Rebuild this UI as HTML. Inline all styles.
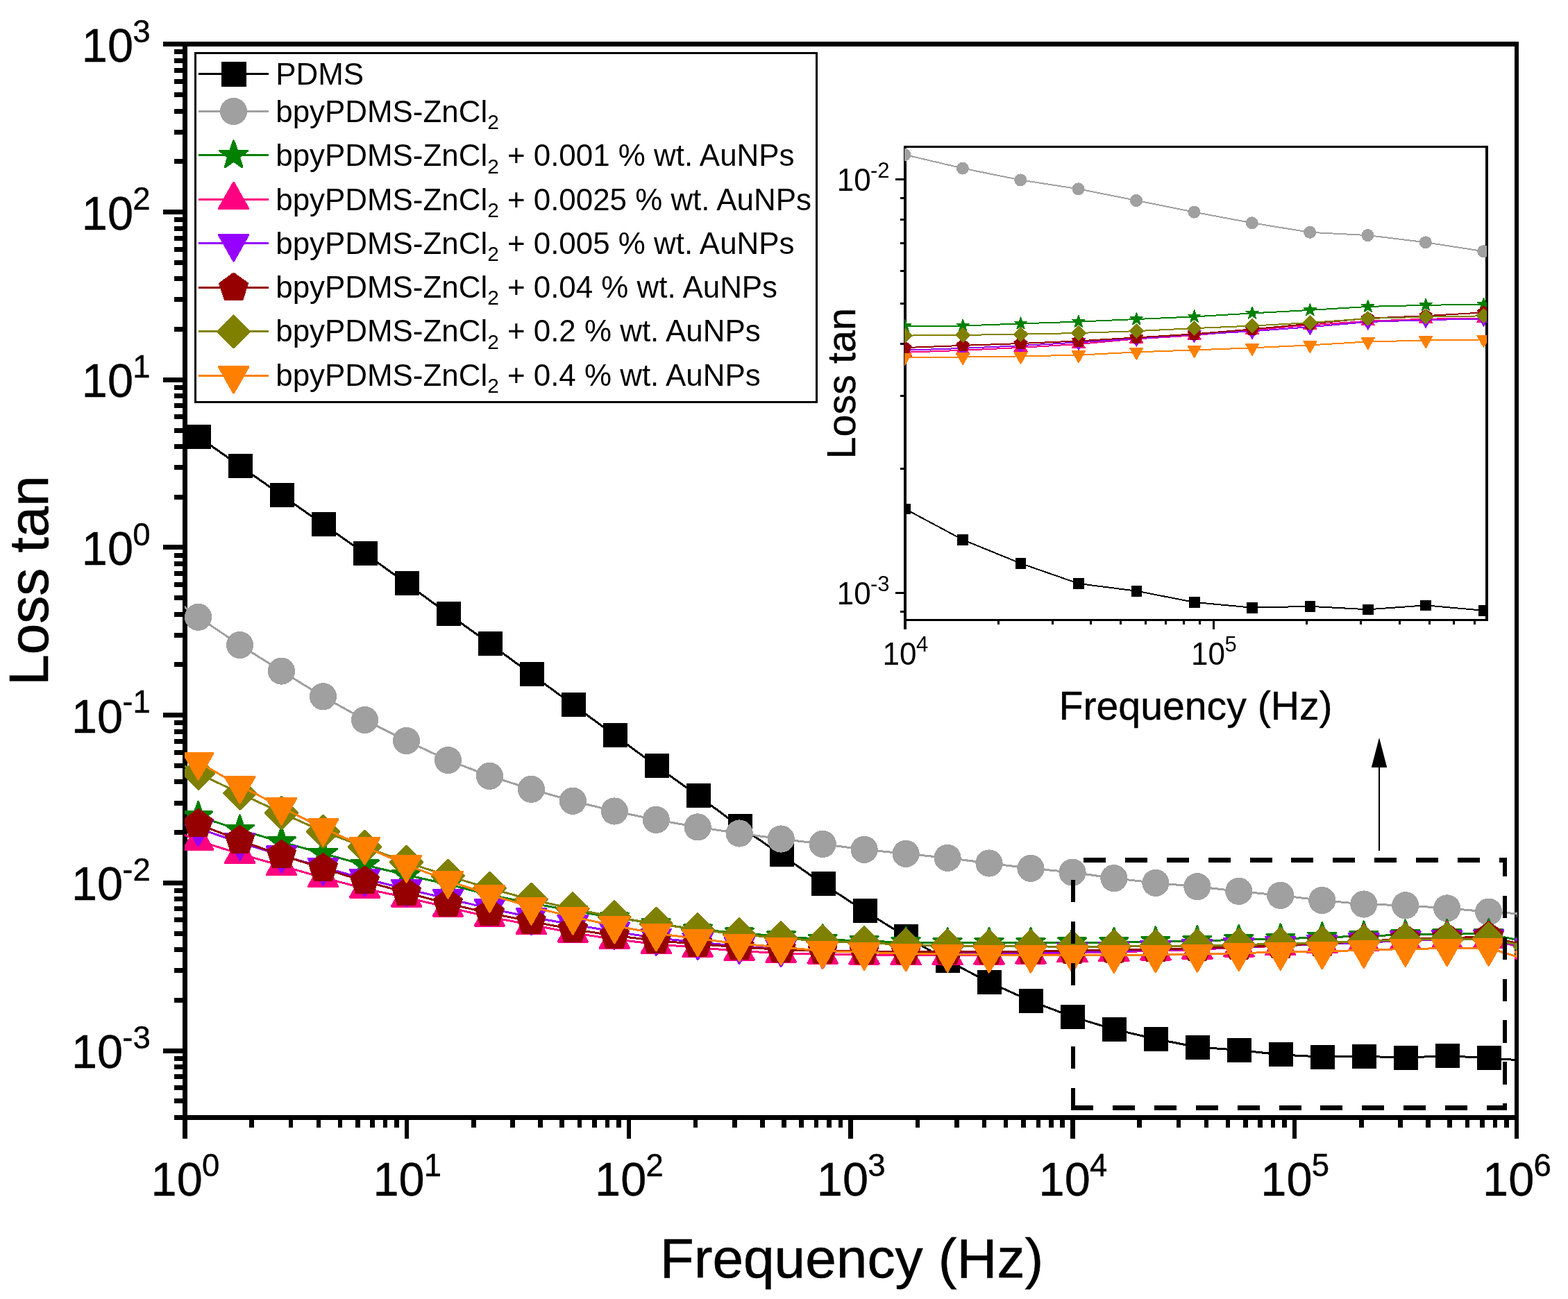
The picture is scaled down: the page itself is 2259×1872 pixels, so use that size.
<!DOCTYPE html>
<html lang="en"><head><meta charset="utf-8"><title>Loss tan vs Frequency</title>
<style>
html,body{margin:0;padding:0;background:#fff;}
body{width:2259px;height:1872px;overflow:hidden;}
svg{display:block;}
text{font-family:"Liberation Sans",Arial,Helvetica,sans-serif;fill:#000;}
.k{fill:#000;}
</style></head><body>
<svg width="2259" height="1872" viewBox="0 0 2259 1872">
<rect x="0" y="0" width="2259" height="1872" fill="#fff"/>
<defs>
<clipPath id="cm"><rect x="266" y="63" width="1920" height="1548"/></clipPath>
<clipPath id="ci"><rect x="1303" y="211" width="839" height="683"/></clipPath>
</defs>
<g id="main-axes" class="k" shape-rendering="crispEdges">
<rect x="263" y="60" width="7" height="1554"/>
<rect x="2182" y="60" width="6" height="1581"/>
<rect x="235" y="60" width="1953" height="7"/>
<rect x="251" y="1607" width="1937" height="7"/>
<rect x="251" y="71" width="15" height="7"/>
<rect x="251" y="84" width="15" height="7"/>
<rect x="251" y="98" width="15" height="7"/>
<rect x="251" y="114" width="15" height="7"/>
<rect x="251" y="133" width="15" height="7"/>
<rect x="251" y="157" width="15" height="7"/>
<rect x="251" y="187" width="15" height="7"/>
<rect x="251" y="229" width="15" height="7"/>
<rect x="235" y="302" width="31" height="7"/>
<rect x="251" y="313" width="15" height="7"/>
<rect x="251" y="326" width="15" height="7"/>
<rect x="251" y="340" width="15" height="7"/>
<rect x="251" y="356" width="15" height="7"/>
<rect x="251" y="375" width="15" height="7"/>
<rect x="251" y="398" width="15" height="7"/>
<rect x="251" y="428" width="15" height="7"/>
<rect x="251" y="471" width="15" height="7"/>
<rect x="235" y="544" width="31" height="7"/>
<rect x="251" y="555" width="15" height="7"/>
<rect x="251" y="567" width="15" height="7"/>
<rect x="251" y="581" width="15" height="7"/>
<rect x="251" y="597" width="15" height="7"/>
<rect x="251" y="617" width="15" height="7"/>
<rect x="251" y="640" width="15" height="7"/>
<rect x="251" y="670" width="15" height="7"/>
<rect x="251" y="713" width="15" height="7"/>
<rect x="235" y="785" width="31" height="7"/>
<rect x="251" y="797" width="15" height="7"/>
<rect x="251" y="809" width="15" height="7"/>
<rect x="251" y="823" width="15" height="7"/>
<rect x="251" y="839" width="15" height="7"/>
<rect x="251" y="858" width="15" height="7"/>
<rect x="251" y="882" width="15" height="7"/>
<rect x="251" y="912" width="15" height="7"/>
<rect x="251" y="954" width="15" height="7"/>
<rect x="235" y="1027" width="31" height="7"/>
<rect x="251" y="1038" width="15" height="7"/>
<rect x="251" y="1051" width="15" height="7"/>
<rect x="251" y="1065" width="15" height="7"/>
<rect x="251" y="1081" width="15" height="7"/>
<rect x="251" y="1100" width="15" height="7"/>
<rect x="251" y="1123" width="15" height="7"/>
<rect x="251" y="1154" width="15" height="7"/>
<rect x="251" y="1196" width="15" height="7"/>
<rect x="235" y="1269" width="31" height="7"/>
<rect x="251" y="1280" width="15" height="7"/>
<rect x="251" y="1292" width="15" height="7"/>
<rect x="251" y="1306" width="15" height="7"/>
<rect x="251" y="1322" width="15" height="7"/>
<rect x="251" y="1342" width="15" height="7"/>
<rect x="251" y="1365" width="15" height="7"/>
<rect x="251" y="1395" width="15" height="7"/>
<rect x="251" y="1438" width="15" height="7"/>
<rect x="235" y="1511" width="31" height="7"/>
<rect x="251" y="1522" width="15" height="7"/>
<rect x="251" y="1534" width="15" height="7"/>
<rect x="251" y="1548" width="15" height="7"/>
<rect x="251" y="1564" width="15" height="7"/>
<rect x="251" y="1583" width="15" height="7"/>
<rect x="263" y="1610" width="7" height="31"/>
<rect x="359" y="1610" width="7" height="15"/>
<rect x="416" y="1610" width="6" height="15"/>
<rect x="456" y="1610" width="6" height="15"/>
<rect x="487" y="1610" width="6" height="15"/>
<rect x="512" y="1610" width="7" height="15"/>
<rect x="533" y="1610" width="7" height="15"/>
<rect x="552" y="1610" width="6" height="15"/>
<rect x="568" y="1610" width="7" height="15"/>
<rect x="583" y="1610" width="6" height="31"/>
<rect x="679" y="1610" width="7" height="15"/>
<rect x="735" y="1610" width="7" height="15"/>
<rect x="775" y="1610" width="7" height="15"/>
<rect x="806" y="1610" width="7" height="15"/>
<rect x="832" y="1610" width="6" height="15"/>
<rect x="853" y="1610" width="7" height="15"/>
<rect x="872" y="1610" width="6" height="15"/>
<rect x="888" y="1610" width="7" height="15"/>
<rect x="903" y="1610" width="6" height="31"/>
<rect x="999" y="1610" width="6" height="15"/>
<rect x="1055" y="1610" width="7" height="15"/>
<rect x="1095" y="1610" width="7" height="15"/>
<rect x="1126" y="1610" width="7" height="15"/>
<rect x="1151" y="1610" width="7" height="15"/>
<rect x="1173" y="1610" width="6" height="15"/>
<rect x="1191" y="1610" width="7" height="15"/>
<rect x="1208" y="1610" width="6" height="15"/>
<rect x="1222" y="1610" width="7" height="31"/>
<rect x="1319" y="1610" width="6" height="15"/>
<rect x="1375" y="1610" width="7" height="15"/>
<rect x="1415" y="1610" width="6" height="15"/>
<rect x="1446" y="1610" width="6" height="15"/>
<rect x="1471" y="1610" width="7" height="15"/>
<rect x="1493" y="1610" width="6" height="15"/>
<rect x="1511" y="1610" width="7" height="15"/>
<rect x="1527" y="1610" width="7" height="15"/>
<rect x="1542" y="1610" width="7" height="31"/>
<rect x="1638" y="1610" width="7" height="15"/>
<rect x="1695" y="1610" width="6" height="15"/>
<rect x="1735" y="1610" width="6" height="15"/>
<rect x="1766" y="1610" width="6" height="15"/>
<rect x="1791" y="1610" width="7" height="15"/>
<rect x="1812" y="1610" width="7" height="15"/>
<rect x="1831" y="1610" width="6" height="15"/>
<rect x="1847" y="1610" width="7" height="15"/>
<rect x="1862" y="1610" width="6" height="31"/>
<rect x="1958" y="1610" width="7" height="15"/>
<rect x="2014" y="1610" width="7" height="15"/>
<rect x="2054" y="1610" width="7" height="15"/>
<rect x="2085" y="1610" width="7" height="15"/>
<rect x="2111" y="1610" width="6" height="15"/>
<rect x="2132" y="1610" width="7" height="15"/>
<rect x="2151" y="1610" width="6" height="15"/>
<rect x="2167" y="1610" width="7" height="15"/>
</g>
<g id="main-ticklabels" stroke="#000" stroke-width="0.4">
<text transform="translate(117.8 88.9) scale(1 1.04)" font-size="66.7">10</text><text x="191.2" y="60.6" font-size="45.5">3</text>
<text transform="translate(117.8 330.6) scale(1 1.04)" font-size="66.7">10</text><text x="191.2" y="302.3" font-size="45.5">2</text>
<text transform="translate(117.8 572.3) scale(1 1.04)" font-size="66.7">10</text><text x="191.2" y="544" font-size="45.5">1</text>
<text transform="translate(117.8 813.9) scale(1 1.04)" font-size="66.7">10</text><text x="191.2" y="785.6" font-size="45.5">0</text>
<text transform="translate(102.9 1055.6) scale(1 1.04)" font-size="66.7">10</text><text x="176.3" y="1027.3" font-size="45.5">-1</text>
<text transform="translate(102.9 1297.3) scale(1 1.04)" font-size="66.7">10</text><text x="176.3" y="1269" font-size="45.5">-2</text>
<text transform="translate(102.9 1539) scale(1 1.04)" font-size="66.7">10</text><text x="176.3" y="1510.7" font-size="45.5">-3</text>
<text transform="translate(217.6 1722.9) scale(1 1.04)" font-size="66.7">10</text><text x="291" y="1695.1" font-size="45.5">0</text>
<text transform="translate(537.4 1722.9) scale(1 1.04)" font-size="66.7">10</text><text x="610.7" y="1695.1" font-size="45.5">1</text>
<text transform="translate(857.1 1722.9) scale(1 1.04)" font-size="66.7">10</text><text x="930.5" y="1695.1" font-size="45.5">2</text>
<text transform="translate(1176.8 1722.9) scale(1 1.04)" font-size="66.7">10</text><text x="1250.2" y="1695.1" font-size="45.5">3</text>
<text transform="translate(1496.6 1722.9) scale(1 1.04)" font-size="66.7">10</text><text x="1570" y="1695.1" font-size="45.5">4</text>
<text transform="translate(1816.3 1722.9) scale(1 1.04)" font-size="66.7">10</text><text x="1889.7" y="1695.1" font-size="45.5">5</text>
<text transform="translate(2136.1 1722.9) scale(1 1.04)" font-size="66.7">10</text><text x="2209.5" y="1695.1" font-size="45.5">6</text>
</g>
<text x="1227" y="1840.7" font-size="80.2" text-anchor="middle" stroke="#000" stroke-width="0.6">Frequency (Hz)</text>
<text transform="translate(68.8 836.6) rotate(-90)" font-size="80" text-anchor="middle" stroke="#000" stroke-width="0.6">Loss tan</text>
<g id="main-data" clip-path="url(#cm)" shape-rendering="crispEdges">
<polyline fill="none" stroke="#000000" stroke-width="3" points="225.6,587.4 285.6,629.4 345.6,671.4 405.5,713.5 465.5,755.5 525.5,797.4 585.5,840.5 645.4,884.5 705.4,927.4 765.4,971.5 825.3,1015.4 885.3,1059.5 945.3,1103.6 1005.2,1146.5 1065.2,1190.7 1125.2,1231.4 1185.2,1273.5 1245.1,1312.5 1305.1,1349.6 1365.1,1384.5 1425,1415.5 1485,1442.6 1545,1465.3 1604.9,1483.4 1664.9,1497.2 1724.9,1509 1784.8,1513.3 1844.8,1519.9 1904.8,1523.1 1964.8,1522.3 2024.7,1524.1 2084.7,1521.7 2144.7,1524.7 2204.6,1529"/>
<g fill="#000000">
<rect x="209" y="570" width="35" height="35"/>
<rect x="269" y="612" width="35" height="35"/>
<rect x="329" y="654" width="35" height="35"/>
<rect x="389" y="696" width="35" height="35"/>
<rect x="449" y="738" width="35" height="35"/>
<rect x="509" y="780" width="35" height="35"/>
<rect x="569" y="823" width="35" height="35"/>
<rect x="629" y="867" width="35" height="35"/>
<rect x="689" y="910" width="35" height="35"/>
<rect x="749" y="954" width="35" height="35"/>
<rect x="809" y="998" width="35" height="35"/>
<rect x="869" y="1042" width="35" height="35"/>
<rect x="929" y="1086" width="35" height="35"/>
<rect x="989" y="1129" width="35" height="35"/>
<rect x="1049" y="1173" width="35" height="35"/>
<rect x="1109" y="1214" width="35" height="35"/>
<rect x="1169" y="1256" width="35" height="35"/>
<rect x="1229" y="1295" width="35" height="35"/>
<rect x="1288" y="1332" width="35" height="35"/>
<rect x="1348" y="1367" width="35" height="35"/>
<rect x="1408" y="1398" width="35" height="35"/>
<rect x="1468" y="1425" width="35" height="35"/>
<rect x="1528" y="1448" width="35" height="35"/>
<rect x="1588" y="1466" width="35" height="35"/>
<rect x="1648" y="1480" width="35" height="35"/>
<rect x="1708" y="1492" width="35" height="35"/>
<rect x="1768" y="1496" width="35" height="35"/>
<rect x="1828" y="1502" width="35" height="35"/>
<rect x="1888" y="1506" width="35" height="35"/>
<rect x="1948" y="1505" width="35" height="35"/>
<rect x="2008" y="1507" width="35" height="35"/>
<rect x="2068" y="1504" width="35" height="35"/>
<rect x="2128" y="1507" width="35" height="35"/>
<rect x="2188" y="1512" width="35" height="35"/>
</g>
<polyline fill="none" stroke="#a0a0a0" stroke-width="3" points="225.6,845 285.6,889.3 345.6,929.5 405.5,967.1 465.5,1003.8 525.5,1037.4 585.5,1067.5 645.4,1095.5 705.4,1118.3 765.4,1137.3 825.3,1154.3 885.3,1169 945.3,1181.4 1005.2,1191.9 1065.2,1201 1125.2,1209 1185.2,1216.4 1245.1,1224.3 1305.1,1230.3 1365.1,1236.4 1425,1244 1485,1251.4 1545,1257.1 1604.9,1265.6 1664.9,1272.4 1724.9,1277.7 1784.8,1284.4 1844.8,1290.4 1904.8,1297.5 1964.8,1303 2024.7,1304.8 2084.7,1308.9 2144.7,1314.1 2204.6,1317.8"/>
<g fill="#a0a0a0">
<circle cx="225.6" cy="845" r="19.6"/>
<circle cx="285.6" cy="889.3" r="19.6"/>
<circle cx="345.6" cy="929.5" r="19.6"/>
<circle cx="405.5" cy="967.1" r="19.6"/>
<circle cx="465.5" cy="1003.8" r="19.6"/>
<circle cx="525.5" cy="1037.4" r="19.6"/>
<circle cx="585.5" cy="1067.5" r="19.6"/>
<circle cx="645.4" cy="1095.5" r="19.6"/>
<circle cx="705.4" cy="1118.3" r="19.6"/>
<circle cx="765.4" cy="1137.3" r="19.6"/>
<circle cx="825.3" cy="1154.3" r="19.6"/>
<circle cx="885.3" cy="1169" r="19.6"/>
<circle cx="945.3" cy="1181.4" r="19.6"/>
<circle cx="1005.2" cy="1191.9" r="19.6"/>
<circle cx="1065.2" cy="1201" r="19.6"/>
<circle cx="1125.2" cy="1209" r="19.6"/>
<circle cx="1185.2" cy="1216.4" r="19.6"/>
<circle cx="1245.1" cy="1224.3" r="19.6"/>
<circle cx="1305.1" cy="1230.3" r="19.6"/>
<circle cx="1365.1" cy="1236.4" r="19.6"/>
<circle cx="1425" cy="1244" r="19.6"/>
<circle cx="1485" cy="1251.4" r="19.6"/>
<circle cx="1545" cy="1257.1" r="19.6"/>
<circle cx="1604.9" cy="1265.6" r="19.6"/>
<circle cx="1664.9" cy="1272.4" r="19.6"/>
<circle cx="1724.9" cy="1277.7" r="19.6"/>
<circle cx="1784.8" cy="1284.4" r="19.6"/>
<circle cx="1844.8" cy="1290.4" r="19.6"/>
<circle cx="1904.8" cy="1297.5" r="19.6"/>
<circle cx="1964.8" cy="1303" r="19.6"/>
<circle cx="2024.7" cy="1304.8" r="19.6"/>
<circle cx="2084.7" cy="1308.9" r="19.6"/>
<circle cx="2144.7" cy="1314.1" r="19.6"/>
<circle cx="2204.6" cy="1317.8" r="19.6"/>
</g>
<polyline fill="none" stroke="#008000" stroke-width="3" points="225.6,1156 285.6,1176.5 345.6,1196 405.5,1213.3 465.5,1230 525.5,1246.5 585.5,1261 645.4,1274.3 705.4,1289.8 765.4,1301.6 825.3,1312.5 885.3,1322.5 945.3,1331 1005.2,1339.5 1065.2,1344.5 1125.2,1349.4 1185.2,1353.7 1245.1,1356.2 1305.1,1357.9 1365.1,1358.8 1425,1358.8 1485,1358.8 1545,1358.4 1604.9,1358.2 1664.9,1357 1724.9,1355.8 1784.8,1354.4 1844.8,1352.9 1904.8,1350.9 1964.8,1349.1 2024.7,1347 2084.7,1346.2 2144.7,1345.7 2204.6,1358.7"/>
<g fill="#008000" stroke="#008000" stroke-width="3" stroke-linejoin="round">
<polygon points="225.6,1134.9 230.6,1149.2 245.7,1149.5 233.7,1158.6 238,1173.1 225.6,1164.4 213.2,1173.1 217.6,1158.6 205.6,1149.5 220.7,1149.2"/>
<polygon points="285.6,1155.4 290.6,1169.7 305.7,1170 293.6,1179.1 298,1193.6 285.6,1184.9 273.2,1193.6 277.6,1179.1 265.5,1170 280.6,1169.7"/>
<polygon points="345.6,1174.9 350.5,1189.2 365.6,1189.5 353.6,1198.6 358,1213.1 345.6,1204.4 333.2,1213.1 337.5,1198.6 325.5,1189.5 340.6,1189.2"/>
<polygon points="405.5,1192.2 410.5,1206.5 425.6,1206.8 413.6,1215.9 417.9,1230.4 405.5,1221.7 393.1,1230.4 397.5,1215.9 385.5,1206.8 400.6,1206.5"/>
<polygon points="465.5,1208.9 470.5,1223.2 485.6,1223.5 473.5,1232.6 477.9,1247.1 465.5,1238.4 453.1,1247.1 457.5,1232.6 445.4,1223.5 460.5,1223.2"/>
<polygon points="525.5,1225.4 530.4,1239.7 545.5,1240 533.5,1249.1 537.9,1263.6 525.5,1254.9 513.1,1263.6 517.5,1249.1 505.4,1240 520.5,1239.7"/>
<polygon points="585.5,1239.9 590.4,1254.2 605.5,1254.5 593.5,1263.6 597.9,1278.1 585.5,1269.4 573,1278.1 577.4,1263.6 565.4,1254.5 580.5,1254.2"/>
<polygon points="645.4,1253.2 650.4,1267.5 665.5,1267.8 653.4,1276.9 657.8,1291.4 645.4,1282.7 633,1291.4 637.4,1276.9 625.4,1267.8 640.5,1267.5"/>
<polygon points="705.4,1268.7 710.4,1283 725.5,1283.3 713.4,1292.4 717.8,1306.9 705.4,1298.2 693,1306.9 697.4,1292.4 685.3,1283.3 700.4,1283"/>
<polygon points="765.4,1280.5 770.3,1294.8 785.4,1295.1 773.4,1304.2 777.8,1318.7 765.4,1310 753,1318.7 757.3,1304.2 745.3,1295.1 760.4,1294.8"/>
<polygon points="825.3,1291.4 830.3,1305.7 845.4,1306 833.4,1315.1 837.7,1329.6 825.3,1320.9 812.9,1329.6 817.3,1315.1 805.3,1306 820.4,1305.7"/>
<polygon points="885.3,1301.4 890.3,1315.7 905.4,1316 893.3,1325.1 897.7,1339.6 885.3,1330.9 872.9,1339.6 877.3,1325.1 865.2,1316 880.3,1315.7"/>
<polygon points="945.3,1309.9 950.2,1324.2 965.3,1324.5 953.3,1333.6 957.7,1348.1 945.3,1339.4 932.9,1348.1 937.2,1333.6 925.2,1324.5 940.3,1324.2"/>
<polygon points="1005.2,1318.4 1010.2,1332.7 1025.3,1333 1013.3,1342.1 1017.6,1356.6 1005.2,1347.9 992.8,1356.6 997.2,1342.1 985.2,1333 1000.3,1332.7"/>
<polygon points="1065.2,1323.4 1070.2,1337.7 1085.3,1338 1073.2,1347.1 1077.6,1361.6 1065.2,1352.9 1052.8,1361.6 1057.2,1347.1 1045.1,1338 1060.2,1337.7"/>
<polygon points="1125.2,1328.3 1130.1,1342.6 1145.2,1342.9 1133.2,1352 1137.6,1366.5 1125.2,1357.8 1112.8,1366.5 1117.2,1352 1105.1,1342.9 1120.2,1342.6"/>
<polygon points="1185.2,1332.6 1190.1,1346.9 1205.2,1347.2 1193.2,1356.3 1197.6,1370.8 1185.2,1362.1 1172.7,1370.8 1177.1,1356.3 1165.1,1347.2 1180.2,1346.9"/>
<polygon points="1245.1,1335.1 1250.1,1349.4 1265.2,1349.7 1253.1,1358.8 1257.5,1373.3 1245.1,1364.6 1232.7,1373.3 1237.1,1358.8 1225.1,1349.7 1240.2,1349.4"/>
<polygon points="1305.1,1336.8 1310.1,1351.1 1325.2,1351.4 1313.1,1360.5 1317.5,1375 1305.1,1366.3 1292.7,1375 1297.1,1360.5 1285,1351.4 1300.1,1351.1"/>
<polygon points="1365.1,1337.7 1370,1352 1385.1,1352.3 1373.1,1361.4 1377.5,1375.9 1365.1,1367.2 1352.7,1375.9 1357,1361.4 1345,1352.3 1360.1,1352"/>
<polygon points="1425,1337.7 1430,1352 1445.1,1352.3 1433.1,1361.4 1437.4,1375.9 1425,1367.2 1412.6,1375.9 1417,1361.4 1405,1352.3 1420.1,1352"/>
<polygon points="1485,1337.7 1490,1352 1505.1,1352.3 1493,1361.4 1497.4,1375.9 1485,1367.2 1472.6,1375.9 1477,1361.4 1464.9,1352.3 1480,1352"/>
<polygon points="1545,1337.3 1549.9,1351.6 1565,1351.9 1553,1361 1557.4,1375.5 1545,1366.9 1532.6,1375.5 1536.9,1361 1524.9,1351.9 1540,1351.6"/>
<polygon points="1604.9,1337.1 1609.9,1351.4 1625,1351.7 1613,1360.8 1617.3,1375.3 1604.9,1366.7 1592.5,1375.3 1596.9,1360.8 1584.9,1351.7 1600,1351.4"/>
<polygon points="1664.9,1335.9 1669.9,1350.1 1685,1350.4 1672.9,1359.6 1677.3,1374 1664.9,1365.4 1652.5,1374 1656.9,1359.6 1644.8,1350.4 1659.9,1350.1"/>
<polygon points="1724.9,1334.7 1729.8,1349 1744.9,1349.3 1732.9,1358.4 1737.3,1372.9 1724.9,1364.3 1712.5,1372.9 1716.9,1358.4 1704.8,1349.3 1719.9,1349"/>
<polygon points="1784.8,1333.3 1789.8,1347.5 1804.9,1347.8 1792.9,1357 1797.3,1371.4 1784.8,1362.8 1772.4,1371.4 1776.8,1357 1764.8,1347.8 1779.9,1347.5"/>
<polygon points="1844.8,1331.8 1849.8,1346.1 1864.9,1346.4 1852.8,1355.5 1857.2,1370 1844.8,1361.3 1832.4,1370 1836.8,1355.5 1824.8,1346.4 1839.9,1346.1"/>
<polygon points="1904.8,1329.8 1909.8,1344 1924.9,1344.4 1912.8,1353.5 1917.2,1367.9 1904.8,1359.3 1892.4,1367.9 1896.8,1353.5 1884.7,1344.4 1899.8,1344"/>
<polygon points="1964.8,1328 1969.7,1342.2 1984.8,1342.5 1972.8,1351.7 1977.2,1366.1 1964.8,1357.5 1952.4,1366.1 1956.7,1351.7 1944.7,1342.5 1959.8,1342.2"/>
<polygon points="2024.7,1325.9 2029.7,1340.2 2044.8,1340.5 2032.8,1349.6 2037.1,1364.1 2024.7,1355.5 2012.3,1364.1 2016.7,1349.6 2004.7,1340.5 2019.8,1340.2"/>
<polygon points="2084.7,1325.1 2089.7,1339.3 2104.8,1339.7 2092.7,1348.8 2097.1,1363.2 2084.7,1354.6 2072.3,1363.2 2076.7,1348.8 2064.6,1339.7 2079.7,1339.3"/>
<polygon points="2144.7,1324.6 2149.6,1338.9 2164.7,1339.2 2152.7,1348.3 2157.1,1362.8 2144.7,1354.2 2132.3,1362.8 2136.6,1348.3 2124.6,1339.2 2139.7,1338.9"/>
<polygon points="2204.6,1337.6 2209.6,1351.9 2224.7,1352.2 2212.7,1361.3 2217,1375.8 2204.6,1367.1 2192.2,1375.8 2196.6,1361.3 2184.6,1352.2 2199.7,1351.9"/>
</g>
<polyline fill="none" stroke="#ff0080" stroke-width="3" points="225.6,1186.1 285.6,1211.6 345.6,1230.6 405.5,1247.7 465.5,1264.8 525.5,1280.5 585.5,1293.5 645.4,1307.5 705.4,1321.5 765.4,1332.7 825.3,1344.4 885.3,1353.5 945.3,1360.7 1005.2,1365.5 1065.2,1370.6 1125.2,1373.6 1185.2,1375.3 1245.1,1376.3 1305.1,1377 1365.1,1377 1425,1376.3 1485,1375.3 1545,1373.1 1604.9,1371.9 1664.9,1370.3 1724.9,1368.4 1784.8,1365.3 1844.8,1363.2 1904.8,1360 1964.8,1357.2 2024.7,1354.9 2084.7,1353.6 2144.7,1353.2 2204.6,1368.4"/>
<g fill="#ff0080" stroke="#ff0080" stroke-width="3" stroke-linejoin="round">
<polygon points="225.6,1161.2 246.9,1198.8 204.3,1198.8"/>
<polygon points="285.6,1186.7 306.9,1224.3 264.3,1224.3"/>
<polygon points="345.6,1205.7 366.9,1243.3 324.3,1243.3"/>
<polygon points="405.5,1222.8 426.8,1260.4 384.2,1260.4"/>
<polygon points="465.5,1239.9 486.8,1277.5 444.2,1277.5"/>
<polygon points="525.5,1255.6 546.8,1293.2 504.2,1293.2"/>
<polygon points="585.5,1268.6 606.8,1306.2 564.2,1306.2"/>
<polygon points="645.4,1282.6 666.7,1320.2 624.1,1320.2"/>
<polygon points="705.4,1296.6 726.7,1334.2 684.1,1334.2"/>
<polygon points="765.4,1307.8 786.7,1345.4 744.1,1345.4"/>
<polygon points="825.3,1319.5 846.6,1357.1 804,1357.1"/>
<polygon points="885.3,1328.6 906.6,1366.2 864,1366.2"/>
<polygon points="945.3,1335.8 966.6,1373.4 924,1373.4"/>
<polygon points="1005.2,1340.6 1026.5,1378.2 983.9,1378.2"/>
<polygon points="1065.2,1345.7 1086.5,1383.3 1043.9,1383.3"/>
<polygon points="1125.2,1348.7 1146.5,1386.3 1103.9,1386.3"/>
<polygon points="1185.2,1350.4 1206.5,1388 1163.9,1388"/>
<polygon points="1245.1,1351.4 1266.4,1389 1223.8,1389"/>
<polygon points="1305.1,1352.1 1326.4,1389.7 1283.8,1389.7"/>
<polygon points="1365.1,1352.1 1386.4,1389.7 1343.8,1389.7"/>
<polygon points="1425,1351.4 1446.3,1389 1403.7,1389"/>
<polygon points="1485,1350.4 1506.3,1388 1463.7,1388"/>
<polygon points="1545,1348.2 1566.3,1385.8 1523.7,1385.8"/>
<polygon points="1604.9,1347 1626.2,1384.6 1583.6,1384.6"/>
<polygon points="1664.9,1345.4 1686.2,1383 1643.6,1383"/>
<polygon points="1724.9,1343.5 1746.2,1381.1 1703.6,1381.1"/>
<polygon points="1784.8,1340.4 1806.1,1378 1763.5,1378"/>
<polygon points="1844.8,1338.3 1866.1,1375.9 1823.5,1375.9"/>
<polygon points="1904.8,1335.1 1926.1,1372.7 1883.5,1372.7"/>
<polygon points="1964.8,1332.3 1986.1,1369.9 1943.5,1369.9"/>
<polygon points="2024.7,1330 2046,1367.6 2003.4,1367.6"/>
<polygon points="2084.7,1328.7 2106,1366.3 2063.4,1366.3"/>
<polygon points="2144.7,1328.3 2166,1365.9 2123.4,1365.9"/>
<polygon points="2204.6,1343.5 2225.9,1381.1 2183.3,1381.1"/>
</g>
<polyline fill="none" stroke="#9600ff" stroke-width="3" points="225.6,1177.8 285.6,1193.8 345.6,1214.2 405.5,1232.5 465.5,1250.1 525.5,1266.3 585.5,1281.2 645.4,1295.1 705.4,1309.2 765.4,1321.8 825.3,1332.2 885.3,1342.6 945.3,1351.7 1005.2,1357.8 1065.2,1363.6 1125.2,1367.7 1185.2,1370.7 1245.1,1372.4 1305.1,1373.3 1365.1,1373.7 1425,1373.7 1485,1373.3 1545,1371.9 1604.9,1370.7 1664.9,1369.2 1724.9,1367.3 1784.8,1365.1 1844.8,1362.8 1904.8,1360.8 1964.8,1358.3 2024.7,1355.4 2084.7,1354.2 2144.7,1353.5 2204.6,1366.4"/>
<g fill="#9600ff" stroke="#9600ff" stroke-width="3" stroke-linejoin="round">
<polygon points="225.6,1202.7 246.9,1165.1 204.3,1165.1"/>
<polygon points="285.6,1218.7 306.9,1181.1 264.3,1181.1"/>
<polygon points="345.6,1239.1 366.9,1201.5 324.3,1201.5"/>
<polygon points="405.5,1257.4 426.8,1219.8 384.2,1219.8"/>
<polygon points="465.5,1275 486.8,1237.4 444.2,1237.4"/>
<polygon points="525.5,1291.2 546.8,1253.6 504.2,1253.6"/>
<polygon points="585.5,1306.1 606.8,1268.5 564.2,1268.5"/>
<polygon points="645.4,1320 666.7,1282.4 624.1,1282.4"/>
<polygon points="705.4,1334.1 726.7,1296.5 684.1,1296.5"/>
<polygon points="765.4,1346.7 786.7,1309.1 744.1,1309.1"/>
<polygon points="825.3,1357.1 846.6,1319.5 804,1319.5"/>
<polygon points="885.3,1367.5 906.6,1329.9 864,1329.9"/>
<polygon points="945.3,1376.6 966.6,1339 924,1339"/>
<polygon points="1005.2,1382.7 1026.5,1345.1 983.9,1345.1"/>
<polygon points="1065.2,1388.5 1086.5,1350.9 1043.9,1350.9"/>
<polygon points="1125.2,1392.6 1146.5,1355 1103.9,1355"/>
<polygon points="1185.2,1395.6 1206.5,1358 1163.9,1358"/>
<polygon points="1245.1,1397.3 1266.4,1359.7 1223.8,1359.7"/>
<polygon points="1305.1,1398.2 1326.4,1360.6 1283.8,1360.6"/>
<polygon points="1365.1,1398.6 1386.4,1361 1343.8,1361"/>
<polygon points="1425,1398.6 1446.3,1361 1403.7,1361"/>
<polygon points="1485,1398.2 1506.3,1360.6 1463.7,1360.6"/>
<polygon points="1545,1396.8 1566.3,1359.2 1523.7,1359.2"/>
<polygon points="1604.9,1395.6 1626.2,1358 1583.6,1358"/>
<polygon points="1664.9,1394.1 1686.2,1356.5 1643.6,1356.5"/>
<polygon points="1724.9,1392.2 1746.2,1354.6 1703.6,1354.6"/>
<polygon points="1784.8,1390 1806.1,1352.4 1763.5,1352.4"/>
<polygon points="1844.8,1387.7 1866.1,1350.1 1823.5,1350.1"/>
<polygon points="1904.8,1385.7 1926.1,1348.1 1883.5,1348.1"/>
<polygon points="1964.8,1383.2 1986.1,1345.6 1943.5,1345.6"/>
<polygon points="2024.7,1380.3 2046,1342.7 2003.4,1342.7"/>
<polygon points="2084.7,1379.1 2106,1341.5 2063.4,1341.5"/>
<polygon points="2144.7,1378.4 2166,1340.8 2123.4,1340.8"/>
<polygon points="2204.6,1391.3 2225.9,1353.7 2183.3,1353.7"/>
</g>
<polyline fill="none" stroke="#960000" stroke-width="3" points="225.6,1165 285.6,1187.5 345.6,1211.2 405.5,1232.4 465.5,1251.4 525.5,1270 585.5,1286.4 645.4,1302.3 705.4,1316 765.4,1327.9 825.3,1339.3 885.3,1348.3 945.3,1355.6 1005.2,1360.5 1065.2,1365 1125.2,1368.4 1185.2,1370.4 1245.1,1371.3 1305.1,1371.8 1365.1,1371.8 1425,1371.3 1485,1370.9 1545,1370.4 1604.9,1369.1 1664.9,1367.9 1724.9,1366.5 1784.8,1364.5 1844.8,1362.4 1904.8,1359.6 1964.8,1356.4 2024.7,1353.2 2084.7,1351.8 2144.7,1349.9 2204.6,1363.8"/>
<g fill="#960000" stroke="#960000" stroke-width="3" stroke-linejoin="round">
<polygon points="225.6,1144.1 245.5,1158.5 237.9,1181.9 213.3,1181.9 205.8,1158.5"/>
<polygon points="285.6,1166.6 305.5,1181 297.9,1204.4 273.3,1204.4 265.7,1181"/>
<polygon points="345.6,1190.3 365.4,1204.7 357.9,1228.1 333.3,1228.1 325.7,1204.7"/>
<polygon points="405.5,1211.5 425.4,1225.9 417.8,1249.3 393.3,1249.3 385.7,1225.9"/>
<polygon points="465.5,1230.5 485.4,1244.9 477.8,1268.3 453.2,1268.3 445.6,1244.9"/>
<polygon points="525.5,1249.1 545.4,1263.5 537.8,1286.9 513.2,1286.9 505.6,1263.5"/>
<polygon points="585.5,1265.5 605.3,1279.9 597.7,1303.3 573.2,1303.3 565.6,1279.9"/>
<polygon points="645.4,1281.4 665.3,1295.8 657.7,1319.2 633.1,1319.2 625.5,1295.8"/>
<polygon points="705.4,1295.1 725.3,1309.5 717.7,1332.9 693.1,1332.9 685.5,1309.5"/>
<polygon points="765.4,1307 785.2,1321.4 777.6,1344.8 753.1,1344.8 745.5,1321.4"/>
<polygon points="825.3,1318.4 845.2,1332.8 837.6,1356.2 813,1356.2 805.5,1332.8"/>
<polygon points="885.3,1327.4 905.2,1341.8 897.6,1365.2 873,1365.2 865.4,1341.8"/>
<polygon points="945.3,1334.7 965.1,1349.1 957.6,1372.5 933,1372.5 925.4,1349.1"/>
<polygon points="1005.2,1339.6 1025.1,1354 1017.5,1377.4 993,1377.4 985.4,1354"/>
<polygon points="1065.2,1344.1 1085.1,1358.5 1077.5,1381.9 1052.9,1381.9 1045.3,1358.5"/>
<polygon points="1125.2,1347.5 1145.1,1361.9 1137.5,1385.3 1112.9,1385.3 1105.3,1361.9"/>
<polygon points="1185.2,1349.5 1205,1363.9 1197.4,1387.3 1172.9,1387.3 1165.3,1363.9"/>
<polygon points="1245.1,1350.4 1265,1364.8 1257.4,1388.2 1232.8,1388.2 1225.2,1364.8"/>
<polygon points="1305.1,1350.9 1325,1365.3 1317.4,1388.7 1292.8,1388.7 1285.2,1365.3"/>
<polygon points="1365.1,1350.9 1384.9,1365.3 1377.3,1388.7 1352.8,1388.7 1345.2,1365.3"/>
<polygon points="1425,1350.4 1444.9,1364.8 1437.3,1388.2 1412.7,1388.2 1405.2,1364.8"/>
<polygon points="1485,1350 1504.9,1364.4 1497.3,1387.8 1472.7,1387.8 1465.1,1364.4"/>
<polygon points="1545,1349.5 1564.8,1364 1557.3,1387.3 1532.7,1387.3 1525.1,1364"/>
<polygon points="1604.9,1348.2 1624.8,1362.7 1617.2,1386 1592.7,1386 1585.1,1362.7"/>
<polygon points="1664.9,1347 1684.8,1361.5 1677.2,1384.9 1652.6,1384.9 1645,1361.5"/>
<polygon points="1724.9,1345.6 1744.8,1360 1737.2,1383.4 1712.6,1383.4 1705,1360"/>
<polygon points="1784.8,1343.6 1804.7,1358 1797.1,1381.4 1772.6,1381.4 1765,1358"/>
<polygon points="1844.8,1341.5 1864.7,1356 1857.1,1379.3 1832.5,1379.3 1824.9,1356"/>
<polygon points="1904.8,1338.7 1924.7,1353.1 1917.1,1376.5 1892.5,1376.5 1884.9,1353.1"/>
<polygon points="1964.8,1335.5 1984.6,1350 1977,1373.3 1952.5,1373.3 1944.9,1350"/>
<polygon points="2024.7,1332.3 2044.6,1346.8 2037,1370.1 2012.4,1370.1 2004.9,1346.8"/>
<polygon points="2084.7,1330.9 2104.6,1345.4 2097,1368.7 2072.4,1368.7 2064.8,1345.4"/>
<polygon points="2144.7,1329 2164.5,1343.4 2157,1366.8 2132.4,1366.8 2124.8,1343.4"/>
<polygon points="2204.6,1342.9 2224.5,1357.3 2216.9,1380.7 2192.4,1380.7 2184.8,1357.3"/>
</g>
<polyline fill="none" stroke="#808000" stroke-width="3" points="225.6,1083.7 285.6,1114.4 345.6,1143.3 405.5,1171.4 465.5,1198.4 525.5,1220.5 585.5,1242.5 645.4,1262.3 705.4,1280.3 765.4,1296.4 825.3,1309.5 885.3,1321.5 945.3,1331.4 1005.2,1339.5 1065.2,1346.7 1125.2,1351.7 1185.2,1356.5 1245.1,1358.7 1305.1,1361.3 1365.1,1363 1425,1363.8 1485,1363.8 1545,1364.3 1604.9,1364 1664.9,1363.6 1724.9,1362.9 1784.8,1361.7 1844.8,1360.1 1904.8,1358.7 1964.8,1356.8 2024.7,1354.4 2084.7,1353.4 2144.7,1352.9 2204.6,1364.8"/>
<g fill="#808000" stroke="#808000" stroke-width="3" stroke-linejoin="round">
<polygon points="225.6,1060.7 248.6,1083.7 225.6,1106.7 202.6,1083.7"/>
<polygon points="285.6,1091.4 308.6,1114.4 285.6,1137.4 262.6,1114.4"/>
<polygon points="345.6,1120.3 368.6,1143.3 345.6,1166.3 322.6,1143.3"/>
<polygon points="405.5,1148.4 428.5,1171.4 405.5,1194.4 382.5,1171.4"/>
<polygon points="465.5,1175.4 488.5,1198.4 465.5,1221.4 442.5,1198.4"/>
<polygon points="525.5,1197.5 548.5,1220.5 525.5,1243.5 502.5,1220.5"/>
<polygon points="585.5,1219.5 608.5,1242.5 585.5,1265.5 562.5,1242.5"/>
<polygon points="645.4,1239.3 668.4,1262.3 645.4,1285.3 622.4,1262.3"/>
<polygon points="705.4,1257.3 728.4,1280.3 705.4,1303.3 682.4,1280.3"/>
<polygon points="765.4,1273.4 788.4,1296.4 765.4,1319.4 742.4,1296.4"/>
<polygon points="825.3,1286.5 848.3,1309.5 825.3,1332.5 802.3,1309.5"/>
<polygon points="885.3,1298.5 908.3,1321.5 885.3,1344.5 862.3,1321.5"/>
<polygon points="945.3,1308.4 968.3,1331.4 945.3,1354.4 922.3,1331.4"/>
<polygon points="1005.2,1316.5 1028.2,1339.5 1005.2,1362.5 982.2,1339.5"/>
<polygon points="1065.2,1323.7 1088.2,1346.7 1065.2,1369.7 1042.2,1346.7"/>
<polygon points="1125.2,1328.7 1148.2,1351.7 1125.2,1374.7 1102.2,1351.7"/>
<polygon points="1185.2,1333.5 1208.2,1356.5 1185.2,1379.5 1162.2,1356.5"/>
<polygon points="1245.1,1335.7 1268.1,1358.7 1245.1,1381.7 1222.1,1358.7"/>
<polygon points="1305.1,1338.3 1328.1,1361.3 1305.1,1384.3 1282.1,1361.3"/>
<polygon points="1365.1,1340 1388.1,1363 1365.1,1386 1342.1,1363"/>
<polygon points="1425,1340.8 1448,1363.8 1425,1386.8 1402,1363.8"/>
<polygon points="1485,1340.8 1508,1363.8 1485,1386.8 1462,1363.8"/>
<polygon points="1545,1341.3 1568,1364.3 1545,1387.3 1522,1364.3"/>
<polygon points="1604.9,1341 1627.9,1364 1604.9,1387 1581.9,1364"/>
<polygon points="1664.9,1340.6 1687.9,1363.6 1664.9,1386.6 1641.9,1363.6"/>
<polygon points="1724.9,1339.9 1747.9,1362.9 1724.9,1385.9 1701.9,1362.9"/>
<polygon points="1784.8,1338.7 1807.8,1361.7 1784.8,1384.7 1761.8,1361.7"/>
<polygon points="1844.8,1337.1 1867.8,1360.1 1844.8,1383.1 1821.8,1360.1"/>
<polygon points="1904.8,1335.7 1927.8,1358.7 1904.8,1381.7 1881.8,1358.7"/>
<polygon points="1964.8,1333.8 1987.8,1356.8 1964.8,1379.8 1941.8,1356.8"/>
<polygon points="2024.7,1331.4 2047.7,1354.4 2024.7,1377.4 2001.7,1354.4"/>
<polygon points="2084.7,1330.4 2107.7,1353.4 2084.7,1376.4 2061.7,1353.4"/>
<polygon points="2144.7,1329.9 2167.7,1352.9 2144.7,1375.9 2121.7,1352.9"/>
<polygon points="2204.6,1341.8 2227.6,1364.8 2204.6,1387.8 2181.6,1364.8"/>
</g>
<polyline fill="none" stroke="#ff8000" stroke-width="3" points="225.6,1064.6 285.6,1098.4 345.6,1132.3 405.5,1163.2 465.5,1193.5 525.5,1220.3 585.5,1246.2 645.4,1269.2 705.4,1289.3 765.4,1307.1 825.3,1321.2 885.3,1334.1 945.3,1345.1 1005.2,1352.8 1065.2,1360 1125.2,1365 1185.2,1370.3 1245.1,1372.4 1305.1,1374.1 1365.1,1375.3 1425,1376.2 1485,1376.2 1545,1376.5 1604.9,1376.4 1664.9,1375.9 1724.9,1375.2 1784.8,1373.5 1844.8,1372.3 1904.8,1371 1964.8,1369.4 2024.7,1367.4 2084.7,1366.7 2144.7,1366.2 2204.6,1384.5"/>
<g fill="#ff8000" stroke="#ff8000" stroke-width="3" stroke-linejoin="round">
<polygon points="225.6,1089.5 246.9,1051.9 204.3,1051.9"/>
<polygon points="285.6,1123.3 306.9,1085.7 264.3,1085.7"/>
<polygon points="345.6,1157.2 366.9,1119.6 324.3,1119.6"/>
<polygon points="405.5,1188.1 426.8,1150.5 384.2,1150.5"/>
<polygon points="465.5,1218.4 486.8,1180.8 444.2,1180.8"/>
<polygon points="525.5,1245.2 546.8,1207.6 504.2,1207.6"/>
<polygon points="585.5,1271.1 606.8,1233.5 564.2,1233.5"/>
<polygon points="645.4,1294.1 666.7,1256.5 624.1,1256.5"/>
<polygon points="705.4,1314.2 726.7,1276.6 684.1,1276.6"/>
<polygon points="765.4,1332 786.7,1294.4 744.1,1294.4"/>
<polygon points="825.3,1346.1 846.6,1308.5 804,1308.5"/>
<polygon points="885.3,1359 906.6,1321.4 864,1321.4"/>
<polygon points="945.3,1370 966.6,1332.4 924,1332.4"/>
<polygon points="1005.2,1377.7 1026.5,1340.1 983.9,1340.1"/>
<polygon points="1065.2,1384.9 1086.5,1347.3 1043.9,1347.3"/>
<polygon points="1125.2,1389.9 1146.5,1352.3 1103.9,1352.3"/>
<polygon points="1185.2,1395.2 1206.5,1357.6 1163.9,1357.6"/>
<polygon points="1245.1,1397.3 1266.4,1359.7 1223.8,1359.7"/>
<polygon points="1305.1,1399 1326.4,1361.4 1283.8,1361.4"/>
<polygon points="1365.1,1400.2 1386.4,1362.6 1343.8,1362.6"/>
<polygon points="1425,1401.1 1446.3,1363.5 1403.7,1363.5"/>
<polygon points="1485,1401.1 1506.3,1363.5 1463.7,1363.5"/>
<polygon points="1545,1401.4 1566.3,1363.8 1523.7,1363.8"/>
<polygon points="1604.9,1401.3 1626.2,1363.7 1583.6,1363.7"/>
<polygon points="1664.9,1400.8 1686.2,1363.2 1643.6,1363.2"/>
<polygon points="1724.9,1400.1 1746.2,1362.5 1703.6,1362.5"/>
<polygon points="1784.8,1398.4 1806.1,1360.8 1763.5,1360.8"/>
<polygon points="1844.8,1397.2 1866.1,1359.6 1823.5,1359.6"/>
<polygon points="1904.8,1395.9 1926.1,1358.3 1883.5,1358.3"/>
<polygon points="1964.8,1394.3 1986.1,1356.7 1943.5,1356.7"/>
<polygon points="2024.7,1392.3 2046,1354.7 2003.4,1354.7"/>
<polygon points="2084.7,1391.6 2106,1354 2063.4,1354"/>
<polygon points="2144.7,1391.1 2166,1353.5 2123.4,1353.5"/>
<polygon points="2204.6,1409.4 2225.9,1371.8 2183.3,1371.8"/>
</g>
</g>
<g id="legend">
<rect x="281.5" y="76.5" width="895" height="503" fill="#fff" stroke="#000" stroke-width="3" shape-rendering="crispEdges"/>
<g shape-rendering="crispEdges"><rect x="286" y="105" width="101" height="3" fill="#000000"/><g fill="#000000"><rect x="319" y="88.9" width="36.1" height="36.1"/></g></g>
<text x="397.3" y="121.9" font-size="43.9">PDMS</text>
<g shape-rendering="crispEdges"><rect x="286" y="159" width="101" height="3" fill="#a0a0a0"/><g fill="#a0a0a0"><circle cx="336.6" cy="160.5" r="19.6"/></g></g>
<text x="397.3" y="176" font-size="43.9">bpyPDMS-ZnCl<tspan dy="10.2" font-size="29.8">2</tspan><tspan dy="-10.2"></tspan></text>
<g shape-rendering="crispEdges"><rect x="286" y="222" width="101" height="3" fill="#008000"/><g fill="#008000" stroke="#008000" stroke-width="3" stroke-linejoin="round"><polygon points="336.6,202.7 341.6,217 356.7,217.3 344.6,226.4 349,240.9 336.6,232.2 324.2,240.9 328.6,226.4 316.5,217.3 331.6,217"/></g></g>
<text x="397.3" y="239.3" font-size="43.9">bpyPDMS-ZnCl<tspan dy="10.2" font-size="29.8">2</tspan><tspan dy="-10.2"> + 0.001 % wt. AuNPs</tspan></text>
<g shape-rendering="crispEdges"><rect x="286" y="286" width="101" height="3" fill="#ff0080"/><g fill="#ff0080" stroke="#ff0080" stroke-width="3" stroke-linejoin="round"><polygon points="336.6,263.1 357.9,300.6 315.3,300.6"/></g></g>
<text x="397.3" y="302.6" font-size="43.9">bpyPDMS-ZnCl<tspan dy="10.2" font-size="29.8">2</tspan><tspan dy="-10.2"> + 0.0025 % wt. AuNPs</tspan></text>
<g shape-rendering="crispEdges"><rect x="286" y="349" width="101" height="3" fill="#9600ff"/><g fill="#9600ff" stroke="#9600ff" stroke-width="3" stroke-linejoin="round"><polygon points="336.6,376 357.9,338.4 315.3,338.4"/></g></g>
<text x="397.3" y="365.8" font-size="43.9">bpyPDMS-ZnCl<tspan dy="10.2" font-size="29.8">2</tspan><tspan dy="-10.2"> + 0.005 % wt. AuNPs</tspan></text>
<g shape-rendering="crispEdges"><rect x="286" y="413" width="101" height="3" fill="#960000"/><g fill="#960000" stroke="#960000" stroke-width="3" stroke-linejoin="round"><polygon points="336.6,394.1 356.5,408.5 348.9,431.9 324.3,431.9 316.7,408.5"/></g></g>
<text x="397.3" y="429.1" font-size="43.9">bpyPDMS-ZnCl<tspan dy="10.2" font-size="29.8">2</tspan><tspan dy="-10.2"> + 0.04 % wt. AuNPs</tspan></text>
<g shape-rendering="crispEdges"><rect x="286" y="476" width="101" height="3" fill="#808000"/><g fill="#808000" stroke="#808000" stroke-width="3" stroke-linejoin="round"><polygon points="336.6,454.9 359.6,477.9 336.6,500.9 313.6,477.9"/></g></g>
<text x="397.3" y="492.4" font-size="43.9">bpyPDMS-ZnCl<tspan dy="10.2" font-size="29.8">2</tspan><tspan dy="-10.2"> + 0.2 % wt. AuNPs</tspan></text>
<g shape-rendering="crispEdges"><rect x="286" y="540" width="101" height="3" fill="#ff8000"/><g fill="#ff8000" stroke="#ff8000" stroke-width="3" stroke-linejoin="round"><polygon points="336.6,566.3 357.9,528.7 315.3,528.7"/></g></g>
<text x="397.3" y="555.7" font-size="43.9">bpyPDMS-ZnCl<tspan dy="10.2" font-size="29.8">2</tspan><tspan dy="-10.2"> + 0.4 % wt. AuNPs</tspan></text>
</g>
<g id="inset-axes" class="k" shape-rendering="crispEdges">
<rect x="1302" y="210" width="4" height="697"/>
<rect x="2140" y="210" width="4" height="685"/>
<rect x="1302" y="210" width="842" height="3"/>
<rect x="1302" y="892" width="842" height="3"/>
<rect x="1290" y="257" width="13" height="3"/>
<rect x="1290" y="853" width="13" height="3"/>
<rect x="1297" y="674" width="6" height="3"/>
<rect x="1297" y="569" width="6" height="3"/>
<rect x="1297" y="494" width="6" height="3"/>
<rect x="1297" y="436" width="6" height="3"/>
<rect x="1297" y="389" width="6" height="3"/>
<rect x="1297" y="349" width="6" height="3"/>
<rect x="1297" y="315" width="6" height="3"/>
<rect x="1297" y="284" width="6" height="3"/>
<rect x="1297" y="880" width="6" height="3"/>
<rect x="1747" y="893" width="3" height="14"/>
<rect x="1437" y="893" width="3" height="7"/>
<rect x="1515" y="893" width="3" height="7"/>
<rect x="1570" y="893" width="3" height="7"/>
<rect x="1613" y="893" width="3" height="7"/>
<rect x="1649" y="893" width="3" height="7"/>
<rect x="1678" y="893" width="3" height="7"/>
<rect x="1704" y="893" width="3" height="7"/>
<rect x="1727" y="893" width="3" height="7"/>
<rect x="1881" y="893" width="3" height="7"/>
<rect x="1959" y="893" width="3" height="7"/>
<rect x="2015" y="893" width="3" height="7"/>
<rect x="2058" y="893" width="3" height="7"/>
<rect x="2093" y="893" width="3" height="7"/>
<rect x="2123" y="893" width="3" height="7"/>
</g>
<g id="inset-ticklabels">
<text transform="translate(1205.8 274.5) scale(1 1.04)" font-size="44.0">10</text><text x="1253.9" y="255.6" font-size="31.0">-2</text>
<text transform="translate(1205.8 870.7) scale(1 1.04)" font-size="44.0">10</text><text x="1253.9" y="851.8" font-size="31.0">-3</text>
<text transform="translate(1271.6 957.5) scale(1 1.04)" font-size="44.0">10</text><text x="1320.1" y="938.9" font-size="31.0">4</text>
<text transform="translate(1716.1 957.5) scale(1 1.04)" font-size="44.0">10</text><text x="1764.6" y="938.9" font-size="31.0">5</text>
</g>
<text x="1722.6" y="1036.7" font-size="57.2" text-anchor="middle" stroke="#000" stroke-width="0.4">Frequency (Hz)</text>
<text transform="translate(1231.8 552.8) rotate(-90)" font-size="57.5" text-anchor="middle" stroke="#000" stroke-width="0.4">Loss tan</text>
<g id="inset-data" clip-path="url(#ci)" shape-rendering="crispEdges">
<polyline fill="none" stroke="#000000" stroke-width="2" points="1220.4,679.2 1303.8,733.3 1387.2,777.9 1470.5,811.9 1553.9,841 1637.3,851.7 1720.7,867.9 1804,875.7 1887.4,873.8 1970.8,878.3 2054.1,872.4 2137.5,879.8 2220.9,892.3"/>
<g fill="#000000">
<rect x="1212.7" y="671.4" width="15.6" height="15.6"/>
<rect x="1296" y="725.5" width="15.6" height="15.6"/>
<rect x="1379.4" y="770.1" width="15.6" height="15.6"/>
<rect x="1462.8" y="804.1" width="15.6" height="15.6"/>
<rect x="1546.1" y="833.2" width="15.6" height="15.6"/>
<rect x="1629.5" y="843.9" width="15.6" height="15.6"/>
<rect x="1712.9" y="860.1" width="15.6" height="15.6"/>
<rect x="1796.2" y="867.9" width="15.6" height="15.6"/>
<rect x="1879.6" y="866" width="15.6" height="15.6"/>
<rect x="1963" y="870.5" width="15.6" height="15.6"/>
<rect x="2046.4" y="864.6" width="15.6" height="15.6"/>
<rect x="2129.7" y="872" width="15.6" height="15.6"/>
<rect x="2213.1" y="884.5" width="15.6" height="15.6"/>
</g>
<polyline fill="none" stroke="#a0a0a0" stroke-width="2" points="1220.4,207.5 1303.8,223 1387.2,242.6 1470.5,259.4 1553.9,272.3 1637.3,289 1720.7,305.7 1804,321.3 1887.4,334.8 1970.8,339.1 2054.1,349.3 2137.5,362.2 2220.9,371.3"/>
<g fill="#a0a0a0">
<circle cx="1220.1" cy="207.5" r="9"/>
<circle cx="1303.5" cy="223" r="9"/>
<circle cx="1386.9" cy="242.6" r="9"/>
<circle cx="1470.2" cy="259.4" r="9"/>
<circle cx="1553.6" cy="272.3" r="9"/>
<circle cx="1637" cy="289" r="9"/>
<circle cx="1720.4" cy="305.7" r="9"/>
<circle cx="1803.7" cy="321.3" r="9"/>
<circle cx="1887.1" cy="334.8" r="9"/>
<circle cx="1970.5" cy="339.1" r="9"/>
<circle cx="2053.8" cy="349.3" r="9"/>
<circle cx="2137.2" cy="362.2" r="9"/>
<circle cx="2220.6" cy="371.3" r="9"/>
</g>
<polyline fill="none" stroke="#008000" stroke-width="2" points="1220.4,472.4 1303.8,470 1387.2,469.5 1470.5,466.4 1553.9,463.6 1637.3,460 1720.7,456.4 1804,451.4 1887.4,446.9 1970.8,441.9 2054.1,439.8 2137.5,438.7 2220.9,472.2"/>
<g fill="#008000" stroke="#008000" stroke-width="1.33" stroke-linejoin="round">
<polygon points="1220.4,463.1 1222.6,469.4 1229.3,469.5 1224,473.6 1225.9,480 1220.4,476.2 1214.9,480 1216.9,473.6 1211.5,469.5 1218.2,469.4"/>
<polygon points="1303.8,460.6 1306,467 1312.7,467.1 1307.4,471.2 1309.3,477.6 1303.8,473.8 1298.3,477.6 1300.2,471.2 1294.9,467.1 1301.6,467"/>
<polygon points="1387.2,460.1 1389.4,466.5 1396.1,466.6 1390.7,470.7 1392.7,477.1 1387.2,473.3 1381.7,477.1 1383.6,470.7 1378.3,466.6 1385,466.5"/>
<polygon points="1470.5,457 1472.7,463.4 1479.5,463.5 1474.1,467.6 1476.1,474 1470.5,470.2 1465,474 1467,467.6 1461.6,463.5 1468.3,463.4"/>
<polygon points="1553.9,454.2 1556.1,460.6 1562.8,460.7 1557.5,464.8 1559.4,471.2 1553.9,467.4 1548.4,471.2 1550.3,464.8 1545,460.7 1551.7,460.6"/>
<polygon points="1637.3,450.6 1639.5,457 1646.2,457.1 1640.8,461.2 1642.8,467.6 1637.3,463.8 1631.8,467.6 1633.7,461.2 1628.4,457.1 1635.1,457"/>
<polygon points="1720.7,447 1722.9,453.4 1729.6,453.5 1724.2,457.6 1726.2,464 1720.7,460.2 1715.1,464 1717.1,457.6 1711.7,453.5 1718.4,453.4"/>
<polygon points="1804,442 1806.2,448.4 1812.9,448.5 1807.6,452.6 1809.5,459 1804,455.2 1798.5,459 1800.5,452.6 1795.1,448.5 1801.8,448.4"/>
<polygon points="1887.4,437.5 1889.6,443.9 1896.3,444 1891,448.1 1892.9,454.5 1887.4,450.7 1881.9,454.5 1883.8,448.1 1878.5,444 1885.2,443.9"/>
<polygon points="1970.8,432.5 1973,438.9 1979.7,439 1974.3,443.1 1976.3,449.5 1970.8,445.7 1965.2,449.5 1967.2,443.1 1961.8,439 1968.6,438.9"/>
<polygon points="2054.1,430.4 2056.3,436.8 2063,436.9 2057.7,441 2059.6,447.4 2054.1,443.6 2048.6,447.4 2050.6,441 2045.2,436.9 2051.9,436.8"/>
<polygon points="2137.5,429.3 2139.7,435.7 2146.4,435.8 2141.1,439.9 2143,446.3 2137.5,442.5 2132,446.3 2133.9,439.9 2128.6,435.8 2135.3,435.7"/>
<polygon points="2220.9,462.8 2223.1,469.1 2229.8,469.3 2224.4,473.3 2226.4,479.8 2220.9,475.9 2215.4,479.8 2217.3,473.3 2212,469.3 2218.7,469.1"/>
</g>
<polyline fill="none" stroke="#ff0080" stroke-width="2" points="1220.4,513.1 1303.8,507.8 1387.2,504.8 1470.5,500.9 1553.9,496 1637.3,488.4 1720.7,483.4 1804,475.4 1887.4,468.5 1970.8,462.7 2054.1,459.7 2137.5,458.7 2220.9,496.1"/>
<g fill="#ff0080" stroke="#ff0080" stroke-width="1.33" stroke-linejoin="round">
<polygon points="1220.4,502.1 1229.9,518.8 1211,518.8"/>
<polygon points="1303.8,496.7 1313.3,513.4 1294.3,513.4"/>
<polygon points="1387.2,493.7 1396.6,510.4 1377.7,510.4"/>
<polygon points="1470.5,489.8 1480,506.5 1461.1,506.5"/>
<polygon points="1553.9,484.9 1563.4,501.6 1544.4,501.6"/>
<polygon points="1637.3,477.3 1646.7,494 1627.8,494"/>
<polygon points="1720.7,472.3 1730.1,489 1711.2,489"/>
<polygon points="1804,464.3 1813.5,481 1794.6,481"/>
<polygon points="1887.4,457.4 1896.9,474.1 1877.9,474.1"/>
<polygon points="1970.8,451.6 1980.2,468.3 1961.3,468.3"/>
<polygon points="2054.1,448.6 2063.6,465.3 2044.7,465.3"/>
<polygon points="2137.5,447.6 2147,464.3 2128,464.3"/>
<polygon points="2220.9,485 2230.3,501.8 2211.4,501.8"/>
</g>
<polyline fill="none" stroke="#9600ff" stroke-width="2" points="1220.4,508.2 1303.8,504.8 1387.2,501.9 1470.5,498.1 1553.9,493.4 1637.3,488 1720.7,482.2 1804,477.3 1887.4,471.2 1970.8,464 2054.1,461.2 2137.5,459.3 2220.9,491.2"/>
<g fill="#9600ff" stroke="#9600ff" stroke-width="1.33" stroke-linejoin="round">
<polygon points="1220.4,519.3 1229.9,502.6 1211,502.6"/>
<polygon points="1303.8,515.9 1313.3,499.2 1294.3,499.2"/>
<polygon points="1387.2,513 1396.6,496.3 1377.7,496.3"/>
<polygon points="1470.5,509.2 1480,492.5 1461.1,492.5"/>
<polygon points="1553.9,504.5 1563.4,487.8 1544.4,487.8"/>
<polygon points="1637.3,499.1 1646.7,482.4 1627.8,482.4"/>
<polygon points="1720.7,493.3 1730.1,476.6 1711.2,476.6"/>
<polygon points="1804,488.4 1813.5,471.7 1794.6,471.7"/>
<polygon points="1887.4,482.3 1896.9,465.6 1877.9,465.6"/>
<polygon points="1970.8,475.1 1980.2,458.4 1961.3,458.4"/>
<polygon points="2054.1,472.3 2063.6,455.6 2044.7,455.6"/>
<polygon points="2137.5,470.4 2147,453.7 2128,453.7"/>
<polygon points="2220.9,502.2 2230.3,485.5 2211.4,485.5"/>
</g>
<polyline fill="none" stroke="#960000" stroke-width="2" points="1220.4,502.3 1303.8,501.1 1387.2,497.9 1470.5,495 1553.9,491.4 1637.3,486.4 1720.7,481.4 1804,474.4 1887.4,466.6 1970.8,458.7 2054.1,455.2 2137.5,450.4 2220.9,484.8"/>
<g fill="#960000" stroke="#960000" stroke-width="1.33" stroke-linejoin="round">
<polygon points="1220.4,493 1229.3,499.4 1225.9,509.8 1215,509.8 1211.6,499.4"/>
<polygon points="1303.8,491.8 1312.6,498.2 1309.3,508.6 1298.3,508.6 1295,498.2"/>
<polygon points="1387.2,488.6 1396,495 1392.6,505.4 1381.7,505.4 1378.3,495"/>
<polygon points="1470.5,485.7 1479.4,492.1 1476,502.5 1465.1,502.5 1461.7,492.1"/>
<polygon points="1553.9,482.1 1562.7,488.5 1559.4,498.9 1548.5,498.9 1545.1,488.5"/>
<polygon points="1637.3,477.1 1646.1,483.5 1642.7,493.9 1631.8,493.9 1628.4,483.5"/>
<polygon points="1720.7,472.1 1729.5,478.5 1726.1,488.9 1715.2,488.9 1711.8,478.5"/>
<polygon points="1804,465.1 1812.9,471.5 1809.5,481.9 1798.6,481.9 1795.2,471.5"/>
<polygon points="1887.4,457.3 1896.2,463.7 1892.8,474.1 1881.9,474.1 1878.6,463.7"/>
<polygon points="1970.8,449.4 1979.6,455.8 1976.2,466.2 1965.3,466.2 1961.9,455.8"/>
<polygon points="2054.1,445.9 2063,452.3 2059.6,462.7 2048.7,462.7 2045.3,452.3"/>
<polygon points="2137.5,441.1 2146.3,447.5 2143,457.9 2132,457.9 2128.7,447.5"/>
<polygon points="2220.9,475.5 2229.7,481.9 2226.3,492.3 2215.4,492.3 2212,481.9"/>
</g>
<polyline fill="none" stroke="#808000" stroke-width="2" points="1220.4,484.8 1303.8,483.6 1387.2,482.9 1470.5,481.7 1553.9,480 1637.3,477.1 1720.7,473.1 1804,469.6 1887.4,465 1970.8,459 2054.1,456.7 2137.5,455.3 2220.9,487.2"/>
<g fill="#808000" stroke="#808000" stroke-width="1.33" stroke-linejoin="round">
<polygon points="1220.4,474.5 1230.7,484.8 1220.4,495 1210.2,484.8"/>
<polygon points="1303.8,473.4 1314,483.6 1303.8,493.8 1293.6,483.6"/>
<polygon points="1387.2,472.7 1397.4,482.9 1387.2,493.1 1376.9,482.9"/>
<polygon points="1470.5,471.5 1480.8,481.7 1470.5,491.9 1460.3,481.7"/>
<polygon points="1553.9,469.8 1564.1,480 1553.9,490.2 1543.7,480"/>
<polygon points="1637.3,466.9 1647.5,477.1 1637.3,487.3 1627.1,477.1"/>
<polygon points="1720.7,462.9 1730.9,473.1 1720.7,483.3 1710.4,473.1"/>
<polygon points="1804,459.4 1814.2,469.6 1804,479.8 1793.8,469.6"/>
<polygon points="1887.4,454.8 1897.6,465 1887.4,475.2 1877.2,465"/>
<polygon points="1970.8,448.8 1981,459 1970.8,469.2 1960.5,459"/>
<polygon points="2054.1,446.5 2064.4,456.7 2054.1,466.9 2043.9,456.7"/>
<polygon points="2137.5,445.1 2147.7,455.3 2137.5,465.5 2127.3,455.3"/>
<polygon points="2220.9,477 2231.1,487.2 2220.9,497.5 2210.6,487.2"/>
</g>
<polyline fill="none" stroke="#ff8000" stroke-width="2" points="1220.4,515.4 1303.8,514.9 1387.2,514.6 1470.5,513.4 1553.9,511.7 1637.3,507.4 1720.7,504.4 1804,501.3 1887.4,497.4 1970.8,492.4 2054.1,490.6 2137.5,489.4 2220.9,535.8"/>
<g fill="#ff8000" stroke="#ff8000" stroke-width="1.33" stroke-linejoin="round">
<polygon points="1220.4,526.4 1229.9,509.7 1211,509.7"/>
<polygon points="1303.8,526 1313.3,509.3 1294.3,509.3"/>
<polygon points="1387.2,525.7 1396.6,509 1377.7,509"/>
<polygon points="1470.5,524.5 1480,507.8 1461.1,507.8"/>
<polygon points="1553.9,522.8 1563.4,506.1 1544.4,506.1"/>
<polygon points="1637.3,518.5 1646.7,501.8 1627.8,501.8"/>
<polygon points="1720.7,515.5 1730.1,498.8 1711.2,498.8"/>
<polygon points="1804,512.4 1813.5,495.7 1794.6,495.7"/>
<polygon points="1887.4,508.5 1896.9,491.8 1877.9,491.8"/>
<polygon points="1970.8,503.5 1980.2,486.8 1961.3,486.8"/>
<polygon points="2054.1,501.7 2063.6,485 2044.7,485"/>
<polygon points="2137.5,500.5 2147,483.8 2128,483.8"/>
<polygon points="2220.9,546.9 2230.3,530.2 2211.4,530.2"/>
</g>
</g>
<g id="zoom-box" class="k" shape-rendering="crispEdges">
<rect x="1543" y="1593" width="32" height="7"/>
<rect x="1603" y="1593" width="32" height="7"/>
<rect x="1663" y="1593" width="32" height="7"/>
<rect x="1723" y="1593" width="32" height="7"/>
<rect x="1783" y="1593" width="32" height="7"/>
<rect x="1843" y="1593" width="32" height="7"/>
<rect x="1902" y="1593" width="32" height="7"/>
<rect x="1962" y="1593" width="32" height="7"/>
<rect x="2022" y="1593" width="32" height="7"/>
<rect x="2082" y="1593" width="32" height="7"/>
<rect x="2142" y="1593" width="29" height="7"/>
<rect x="1561" y="1236" width="32" height="7"/>
<rect x="1621" y="1236" width="32" height="7"/>
<rect x="1681" y="1236" width="32" height="7"/>
<rect x="1741" y="1236" width="32" height="7"/>
<rect x="1801" y="1236" width="32" height="7"/>
<rect x="1860" y="1236" width="32" height="7"/>
<rect x="1920" y="1236" width="32" height="7"/>
<rect x="1980" y="1236" width="32" height="7"/>
<rect x="2040" y="1236" width="32" height="7"/>
<rect x="2100" y="1236" width="32" height="7"/>
<rect x="2160" y="1236" width="11" height="7"/>
<rect x="1543" y="1568" width="6" height="32"/>
<rect x="1543" y="1508" width="6" height="32"/>
<rect x="1543" y="1448" width="6" height="32"/>
<rect x="1543" y="1388" width="6" height="32"/>
<rect x="1543" y="1328" width="6" height="32"/>
<rect x="1543" y="1268" width="6" height="32"/>
<rect x="2165" y="1590" width="6" height="10"/>
<rect x="2165" y="1530" width="6" height="33"/>
<rect x="2165" y="1470" width="6" height="33"/>
<rect x="2165" y="1411" width="6" height="32"/>
<rect x="2165" y="1351" width="6" height="32"/>
<rect x="2165" y="1291" width="6" height="32"/>
<rect x="2165" y="1236" width="6" height="27"/>
<rect x="1986" y="1100" width="2.2" height="126"/>
</g>
<polygon class="k" points="1987,1063 1998.2,1106 1975.8,1106"/>
</svg>
</body></html>
